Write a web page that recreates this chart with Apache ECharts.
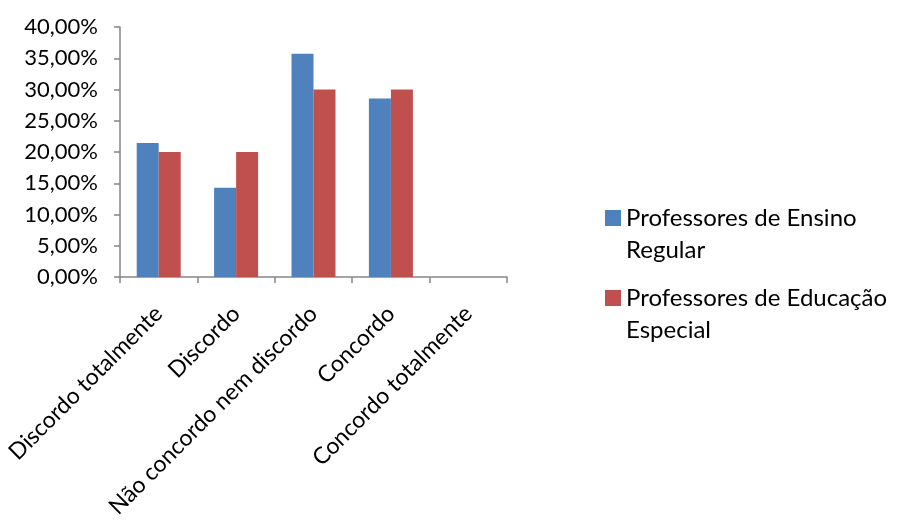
<!DOCTYPE html>
<html><head><meta charset="utf-8">
<script src="https://cdn.jsdelivr.net/npm/echarts@6/dist/echarts.min.js"></script>
<style>html,body{margin:0;padding:0;background:#fff}#c{width:898px;height:523px}</style>
</head><body><div id="c"></div>
<script>
var categories = ['Discordo totalmente', 'Discordo', 'Não concordo nem discordo', 'Concordo', 'Concordo totalmente'];
var seriesNames = ['Professores de Ensino\nRegular', 'Professores de Educação\nEspecial'];
var regular = [21.43, 14.29, 35.71, 28.57, 0];
var especial = [20, 20, 30, 30, 0];
var yMin = 0, yMax = 40, yStep = 5;

var FONT = 'Lato';
var chart = echarts.init(document.getElementById('c'), null, {renderer: 'canvas'});
var iconPath = 'path://M0,0L16,0L16,16L0,16Z M0,48L0.01,48L0.01,48.01Z';
chart.setOption({
  animation: false,
  color: ['#4F81BD', '#C0504D'],
  grid: {left: 120, right: 391, top: 27, bottom: 246, containLabel: false, outerBoundsMode: 'none'},
  legend: {
    orient: 'vertical', left: 600, top: 197,
    itemWidth: 16, itemHeight: 48, itemGap: 16,
    icon: iconPath,
    itemStyle: {borderWidth: 0},
    textStyle: {fontFamily: FONT, fontSize: 24, color: '#000', lineHeight: 32, padding: [0, 0, 0, 0]},
    data: [{name: seriesNames[0], icon: iconPath}, {name: seriesNames[1], icon: iconPath}]
  },
  xAxis: {
    type: 'category', data: categories,
    axisLine: {lineStyle: {color: '#868686', width: 1.5}},
    axisTick: {show: true, length: 6, alignWithLabel: false, lineStyle: {color: '#868686', width: 1.5}},
    axisLabel: {rotate: 45, interval: 0, margin: 33, padding: [6, 0, 0, 0], fontFamily: FONT, fontSize: 23, color: '#000'}
  },
  yAxis: {
    type: 'value', min: yMin, max: yMax, interval: yStep,
    splitLine: {show: false},
    axisLine: {show: true, lineStyle: {color: '#868686', width: 1.5}},
    axisTick: {show: true, length: 6, lineStyle: {color: '#868686', width: 1.5}},
    axisLabel: {margin: 22, fontFamily: FONT, fontSize: 22, color: '#000',
      formatter: function (v) { return v.toFixed(2).replace('.', ',') + '%'; }}
  },
  series: [
    {name: seriesNames[0], type: 'bar', data: regular, barWidth: 22, barGap: '0%'},
    {name: seriesNames[1], type: 'bar', data: especial, barWidth: 22, barGap: '0%'}
  ]
});
</script></body></html>
